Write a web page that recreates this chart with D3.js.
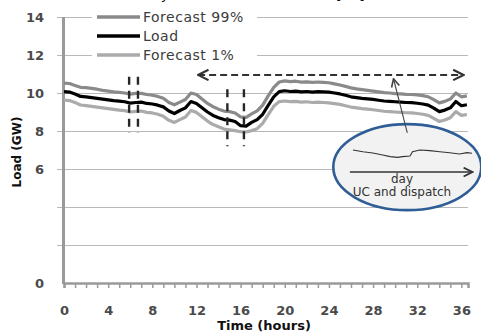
<!DOCTYPE html>
<html>
<head>
<meta charset="utf-8">
<script src="https://cdn.jsdelivr.net/npm/d3@7"></script>
<style>
  html, body { margin: 0; padding: 0; background: #fff; }
  svg { display: block; }
</style>
</head>
<body>
<svg id="chart" width="481" height="332"></svg>
<script>
// Time axis (hours) sampled every half hour
const hours = [0,0.5,1,1.5,2,2.5,3,3.5,4,4.5,5,5.5,6,6.5,7,7.5,8,8.5,9,9.5,
  10,10.5,11,11.5,12,12.5,13,13.5,14,14.5,15,15.5,16,16.5,17,17.5,18,18.5,19,19.5,
  20,20.5,21,21.5,22,22.5,23,23.5,24,24.5,25,25.5,26,26.5,27,27.5,28,28.5,29,29.5,
  30,30.5,31,31.5,32,32.5,33,33.5,34,34.5,35,35.5,36,36.5];

// Actual load (GW)
const load = [10.07,10.05,9.95,9.82,9.80,9.76,9.72,9.68,9.64,9.60,9.57,9.54,9.47,9.50,9.52,9.45,9.42,9.36,9.27,9.05,
  8.92,9.08,9.22,9.55,9.45,9.22,9.00,8.82,8.70,8.60,8.57,8.50,8.28,8.26,8.45,8.60,8.88,9.35,9.80,10.07,
  10.12,10.08,10.10,10.06,10.08,10.05,10.07,10.06,10.05,10.00,9.95,9.88,9.80,9.76,9.72,9.69,9.66,9.62,9.58,9.56,
  9.54,9.52,9.50,9.49,9.46,9.42,9.36,9.20,9.02,9.10,9.22,9.55,9.33,9.38];

// Upper forecast band (99th percentile, GW)
const forecast99 = [10.52,10.50,10.40,10.30,10.28,10.24,10.20,10.14,10.10,10.06,10.03,10.00,9.94,9.98,9.98,9.92,9.88,9.82,9.72,9.50,
  9.38,9.52,9.66,10.00,9.92,9.68,9.45,9.28,9.15,9.05,9.02,8.95,8.74,8.72,8.90,9.06,9.36,9.85,10.30,10.58,
  10.64,10.60,10.62,10.57,10.59,10.56,10.58,10.56,10.54,10.48,10.42,10.35,10.27,10.22,10.18,10.14,10.10,10.06,10.02,10.00,
  9.97,9.95,9.93,9.92,9.90,9.86,9.80,9.65,9.48,9.56,9.68,10.00,9.80,9.85];

// Lower forecast band (1st percentile, GW)
const forecast1 = [9.62,9.60,9.50,9.37,9.34,9.30,9.26,9.22,9.18,9.14,9.10,9.07,9.00,9.03,9.05,8.98,8.95,8.88,8.78,8.56,
  8.45,8.60,8.74,9.08,8.98,8.75,8.52,8.34,8.22,8.10,8.06,8.02,7.96,7.95,8.02,8.12,8.40,8.86,9.30,9.55,
  9.58,9.55,9.56,9.52,9.54,9.50,9.52,9.50,9.48,9.44,9.40,9.33,9.26,9.22,9.18,9.15,9.12,9.08,9.04,9.02,
  9.00,8.98,8.96,8.95,8.92,8.88,8.82,8.66,8.50,8.58,8.70,9.02,8.82,8.87];

// Axis ticks
const xTickLabels = [0,4,8,12,16,20,24,28,32,36];
const xMinorTicks = [0,1,2,3,4,5,6,7,8,9,10,11,12,13,14,15,16,17,18,19,20,21,22,23,24,25,26,27,28,29,30,31,32,33,34,35,36];
const yGridValues = [2,4,6,8,10,12,14];
const yTickLabels = [0,6,8,10,12,14];

// Sketch of one day's load inside the callout
const insetHours = [0,2,4,6,7.5,9,10,11.5,12,13.5,15.5,17.5,19.5,21.5,23,24];
const insetLoad = [9.83,9.69,9.58,9.42,9.28,9.22,9.28,9.33,9.69,9.83,9.78,9.69,9.61,9.50,9.61,9.56];

const series = [
  { name: "Forecast 99%", values: forecast99, color: "#8a8a8a", width: 3.2 },
  { name: "Load",         values: load,       color: "#000000", width: 3.2 },
  { name: "Forecast 1%",  values: forecast1,  color: "#ababab", width: 3.2 }
];

const svg = d3.select("#chart");
const x = d3.scaleLinear().domain([0, 36.6]).range([64, 468]);
const y = d3.scaleLinear().domain([0, 14]).range([283, 17]);

// Caption above the plot (sits mostly beyond the top edge)
const cap = svg.append("g").attr("font-family", "DejaVu Sans").attr("font-size", 14).attr("fill", "#111");
cap.append("text").attr("x", 169).attr("y", -0.8).attr("text-anchor", "end").text("day");
cap.append("text").attr("x", 336).attr("y", -0.8).text("[10]");

// Horizontal gridlines
svg.append("g").selectAll("line").data(yGridValues).join("line")
  .attr("x1", 57).attr("x2", x(36.6))
  .attr("y1", d => y(d) + 0.5).attr("y2", d => y(d) + 0.5)
  .attr("stroke", "#b8b8b8").attr("stroke-width", 1.2);

// Y tick labels
svg.append("g").selectAll("text").data(yTickLabels).join("text")
  .attr("x", 44).attr("y", d => y(d) + 5)
  .attr("text-anchor", "end")
  .attr("font-family", "DejaVu Sans").attr("font-weight", "bold").attr("font-size", 13)
  .attr("fill", "#4a4a4a")
  .text(d => d);

// X axis: hourly ticks
const xAxis = svg.append("g").attr("transform", "translate(0,283)")
  .call(d3.axisBottom(x).tickValues(xMinorTicks).tickSize(5).tickSizeOuter(5).tickFormat(""));
xAxis.select(".domain").attr("stroke", "#9a9a9a").attr("stroke-width", 2.5);
xAxis.selectAll(".tick line").attr("stroke", "#9a9a9a").attr("stroke-width", 1.5);

// X tick labels
const xLab = svg.append("g").attr("transform", "translate(0,315)")
  .call(d3.axisBottom(x).tickValues(xTickLabels).tickSize(0).tickFormat(d3.format("d")));
xLab.select(".domain").remove();
xLab.selectAll("text")
  .attr("y", 0).attr("dy", 0)
  .attr("font-family", "DejaVu Sans").attr("font-weight", "bold").attr("font-size", 13)
  .attr("fill", "#4a4a4a");

// Y axis line
svg.append("line")
  .attr("x1", 63.5).attr("x2", 63.5).attr("y1", y(14)).attr("y2", y(0) + 1)
  .attr("stroke", "#9a9a9a").attr("stroke-width", 3);

// Axis titles
svg.append("text")
  .attr("transform", "translate(21,152) rotate(-90)")
  .attr("text-anchor", "middle")
  .attr("font-family", "DejaVu Sans").attr("font-weight", "bold").attr("font-size", 12)
  .attr("fill", "#111").text("Load (GW)");
svg.append("text")
  .attr("x", 264).attr("y", 330).attr("text-anchor", "middle")
  .attr("font-family", "DejaVu Sans").attr("font-weight", "bold").attr("font-size", 13)
  .attr("fill", "#111").text("Time (hours)");

// Series lines
const line = d3.line().x((d, i) => x(hours[i])).y(d => y(d)).curve(d3.curveLinear);
const order = [series[0], series[2], series[1]];
svg.append("g").selectAll("path").data(order).join("path")
  .attr("d", d => line(d.values))
  .attr("fill", "none")
  .attr("stroke", d => d.color)
  .attr("stroke-width", d => d.width)
  .attr("stroke-linejoin", "round");

// Dashed vertical markers (paired)
const markerTimes = [5.9, 6.7];
const markerTimes2 = [14.8, 16.3];
const dark = "#262626";
function vDash(t, v0, v1) {
  svg.append("line")
    .attr("x1", x(t)).attr("x2", x(t)).attr("y1", y(v0)).attr("y2", y(v1))
    .attr("stroke", dark).attr("stroke-width", 2.4)
    .attr("stroke-dasharray", "8,6");
}
markerTimes.forEach(t => vDash(t, 10.85, 7.9));
markerTimes2.forEach(t => vDash(t, 10.2, 7.2));

// Arrowhead markers
const defs = svg.append("defs");
function chevron(id, color, size) {
  defs.append("marker").attr("id", id)
    .attr("viewBox", "0 0 10 10").attr("refX", 9).attr("refY", 5)
    .attr("markerWidth", size).attr("markerHeight", size)
    .attr("markerUnits", "userSpaceOnUse")
    .attr("orient", "auto-start-reverse")
    .append("path").attr("d", "M1,1 L9,5 L1,9")
    .attr("fill", "none").attr("stroke", color).attr("stroke-width", 1.6);
}
chevron("chev", "#333", 13);
chevron("chevSmall", "#333", 11);
chevron("chevThin", "#444", 10);

// Horizontal dashed double arrow
svg.append("line")
  .attr("x1", x(12.15)).attr("x2", x(36.2)).attr("y1", y(10.95)).attr("y2", y(10.95))
  .attr("stroke", "#333").attr("stroke-width", 2)
  .attr("stroke-dasharray", "7,4")
  .attr("marker-start", "url(#chev)").attr("marker-end", "url(#chev)");

// Callout ellipse
svg.append("ellipse")
  .attr("cx", x(31.1)).attr("cy", y(6.1)).attr("rx", 74).attr("ry", 43)
  .attr("fill", "#f2f2f2").attr("stroke", "#2f5d96").attr("stroke-width", 2.6);

// Pointer from callout to the horizon arrow
svg.append("line")
  .attr("x1", x(31.1)).attr("y1", y(7.9)).attr("x2", x(29.85)).attr("y2", y(10.75))
  .attr("stroke", "#444").attr("stroke-width", 1.1)
  .attr("marker-end", "url(#chevThin)");

// Inset day trace
const ix = d3.scaleLinear().domain([0, 24]).range([353, 472]);
const iy = d3.scaleLinear().domain([9, 10]).range([160, 148]);
svg.append("path")
  .attr("d", d3.line().x((d, i) => ix(insetHours[i])).y(d => iy(d))(insetLoad))
  .attr("fill", "none").attr("stroke", "#333").attr("stroke-width", 1.1);

// Day arrow inside callout
svg.append("line")
  .attr("x1", x(25.9)).attr("x2", x(37.0)).attr("y1", y(5.84)).attr("y2", y(5.84))
  .attr("stroke", "#333").attr("stroke-width", 1.5)
  .attr("marker-end", "url(#chevSmall)");

svg.append("text").attr("x", 402).attr("y", 183).attr("text-anchor", "middle")
  .attr("font-family", "DejaVu Sans").attr("font-size", 12).attr("fill", "#333").text("day");
svg.append("text").attr("x", 402).attr("y", 196).attr("text-anchor", "middle")
  .attr("font-family", "DejaVu Sans").attr("font-size", 12).attr("fill", "#333").text("UC and dispatch");

// Legend
const legend = svg.append("g");
legend.append("rect").attr("x", 92).attr("y", 6).attr("width", 165).attr("height", 58).attr("fill", "#fff");
const legendRows = [17, 36, 55];
series.forEach((s, i) => {
  legend.append("line")
    .attr("x1", 97).attr("x2", 140).attr("y1", legendRows[i]).attr("y2", legendRows[i])
    .attr("stroke", s.color).attr("stroke-width", 3.5);
  legend.append("text")
    .attr("x", 143).attr("y", legendRows[i] + 5)
    .attr("font-family", "DejaVu Sans").attr("font-size", 14)
    .attr("letter-spacing", 0.5)
    .attr("fill", "#3c3c3c").text(s.name);
});
</script>
</body>
</html>
